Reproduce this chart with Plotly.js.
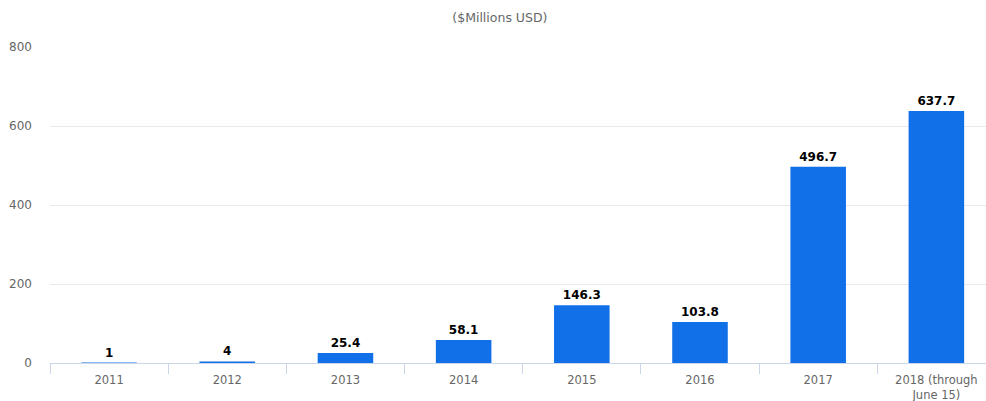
<!DOCTYPE html>
<html>
<head>
<meta charset="utf-8">
<script src="https://cdn.plot.ly/plotly-3.0.1.min.js"></script>
<style>html,body{margin:0;padding:0;background:#fff;}#chart{width:986px;height:401px;}</style>
</head>
<body>
<div id="chart"></div>
<script>
const categories = ['2011', '2012', '2013', '2014', '2015', '2016', '2017', '2018 (through<br>June 15)'];
const values = [1, 4, 25.4, 58.1, 146.3, 103.8, 496.7, 637.7];
const valueLabels = ['1', '4', '25.4', '58.1', '146.3', '103.8', '496.7', '637.7'];
const yTicks = [0, 200, 400, 600, 800];

const trace = {
  type: 'bar',
  x: categories,
  y: values,
  text: valueLabels,
  textposition: 'outside',
  cliponaxis: false,
  textfont: {family: 'DejaVu Sans', size: 12, color: '#000', weight: 'bold'},
  marker: {color: '#1170e8'},
  hoverinfo: 'none'
};

const layout = {
  width: 986, height: 401,
  margin: {l: 50, r: 0, t: 47, b: 38},
  paper_bgcolor: '#fff', plot_bgcolor: '#fff',
  showlegend: false,
  bargap: 0.53,
  title: {text: '($Millions USD)', x: 0.507, xanchor: 'center', y: 0.955, yanchor: 'middle',
    font: {family: 'DejaVu Sans', size: 12.5, color: '#666'}},
  xaxis: {
    type: 'category',
    range: [-0.5, 7.42],
    showline: true, linecolor: '#ccd6eb', linewidth: 1,
    ticks: 'outside', tickson: 'boundaries', ticklen: 10, tickcolor: '#ccd6eb',
    ticklabelstandoff: 6,
    showgrid: false, zeroline: false,
    tickfont: {family: 'DejaVu Sans', size: 11.5, color: '#666'}
  },
  yaxis: {
    range: [0, 800],
    tickvals: yTicks,
    ticktext: yTicks.map(String),
    showgrid: true, gridcolor: '#e9e9e9', gridwidth: 1,
    zeroline: false, showline: false,
    ticks: '', ticklabelstandoff: 17,
    tickfont: {family: 'DejaVu Sans', size: 12, color: '#666'}
  }
};

Plotly.newPlot('chart', [trace], layout, {staticPlot: true, displayModeBar: false});
</script>
</body>
</html>
